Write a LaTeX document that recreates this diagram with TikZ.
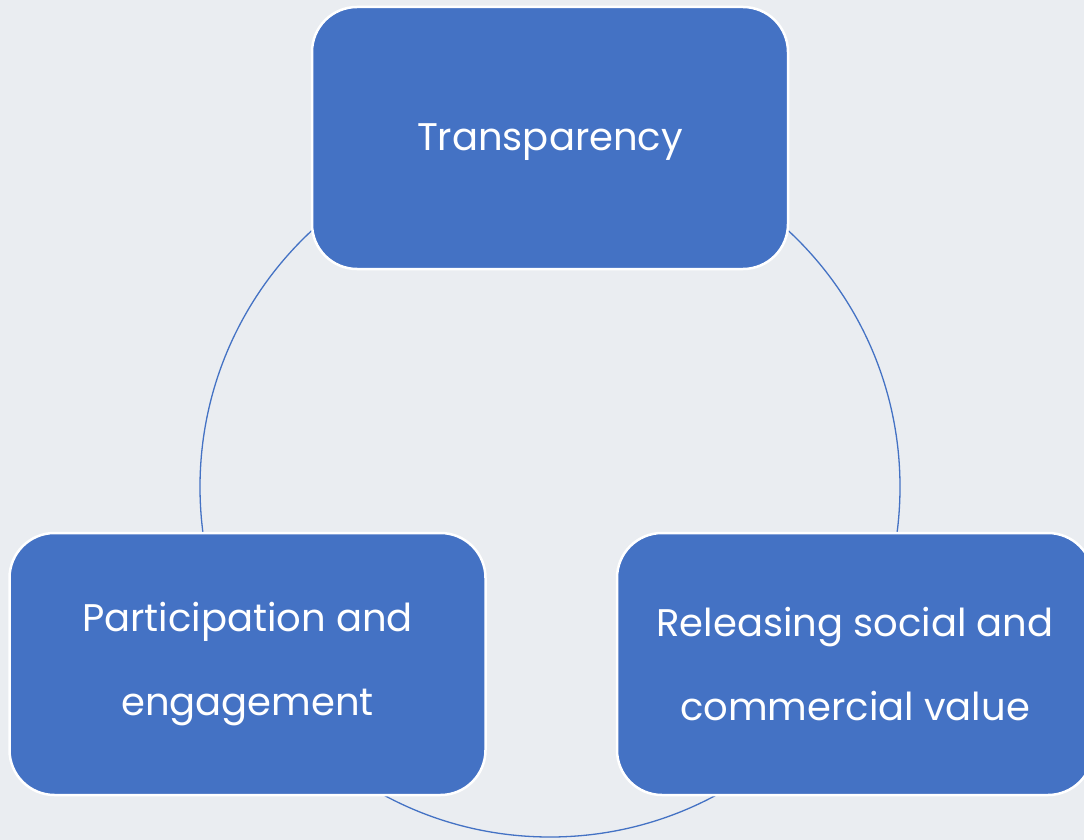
\documentclass[tikz,border=0pt]{standalone}
\usepackage{fontspec}
\newfontfamily\boxfont{Poppins}
\usetikzlibrary{shapes}
\definecolor{boxblue}{RGB}{68,114,196}
\definecolor{backgr}{RGB}{234,237,241}
\tikzset{cyclebox/.style={draw=white,line width=2.5pt,fill=boxblue,rounded corners=45pt,
  minimum width=476pt,minimum height=262pt,text=white,align=center,
  font=\boxfont\fontsize{38.5}{84}\selectfont}}
\def\fondo{(0,0) rectangle (1084,840)}

\begin{document}
\begin{tikzpicture}[x=1pt,y=-1pt]
  \fill[backgr] \fondo;
  \useasboundingbox \fondo;
  \node[circle,draw=boxblue,line width=1.3pt,minimum size=700pt,inner sep=0pt] (ring) at (550,487) {};
  \node[cyclebox,text depth=2pt] (transp) at (550,138) {Transparency};
  \node[cyclebox] (partic) at (247.5,664) {Participation and\\engagement};
  \node[cyclebox] (releas) at (855,664) {Releasing social and\\commercial value};
\end{tikzpicture}
\end{document}
